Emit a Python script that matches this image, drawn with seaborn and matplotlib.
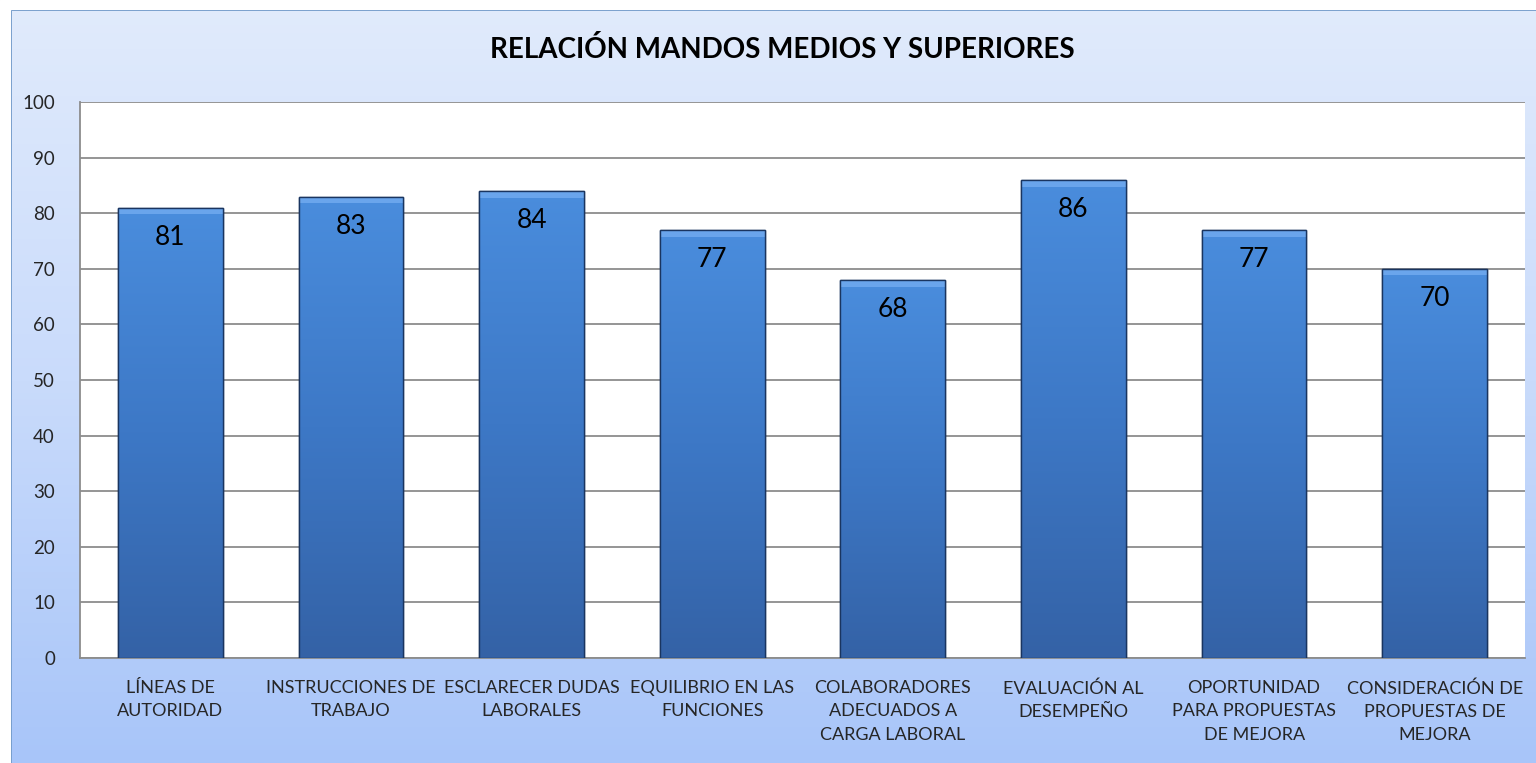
import numpy as np
import pandas as pd
import matplotlib.pyplot as plt
import matplotlib.colors as mcolors
from matplotlib.patches import Rectangle
import seaborn as sns

# Chart data
categorias = [
    "LÍNEAS DE\nAUTORIDAD",
    "INSTRUCCIONES DE\nTRABAJO",
    "ESCLARECER DUDAS\nLABORALES",
    "EQUILIBRIO EN LAS\nFUNCIONES",
    "COLABORADORES\nADECUADOS A\nCARGA LABORAL",
    "EVALUACIÓN AL\nDESEMPEÑO",
    "OPORTUNIDAD\nPARA PROPUESTAS\nDE MEJORA",
    "CONSIDERACIÓN DE\nPROPUESTAS DE\nMEJORA",
]
valores = [81, 83, 84, 77, 68, 86, 77, 70]
titulo = "RELACIÓN MANDOS MEDIOS Y SUPERIORES"
y_ticks = list(range(0, 101, 10))

df = pd.DataFrame({"categoria": categorias, "valor": valores})

sns.set_style("white")
plt.rcParams["font.family"] = ["Lato", "DejaVu Sans"]

W, H = 1536, 763
fig = plt.figure(figsize=(W / 100, H / 100), dpi=100)

# Background: vertical gradient with blue frame
bg = fig.add_axes([0, 0, 1, 1], zorder=-10)
grad = np.linspace(0, 1, 256).reshape(-1, 1)
bg_cmap = mcolors.LinearSegmentedColormap.from_list("bg", ["#e1ebfc", "#c9dbfb", "#a8c5f9"])
bg.imshow(grad, aspect="auto", cmap=bg_cmap, extent=[0, 1, 0, 1], origin="upper")
bg.add_patch(Rectangle((10 / W, -0.01), 1.0, 1 - 9 / H + 0.01, fill=False,
                       edgecolor="#4f81bd", linewidth=2, transform=bg.transAxes))
bg.add_patch(Rectangle((0, 0), 10 / W, 1, color="white", transform=bg.transAxes))
bg.add_patch(Rectangle((0, 1 - 9 / H), 1, 9 / H, color="white", transform=bg.transAxes))
bg.set_xlim(0, 1)
bg.set_ylim(0, 1)
bg.axis("off")

left, right, top, bottom = 80, 1525, 102, 658
ax = fig.add_axes([left / W, 1 - bottom / H, (right - left) / W, (bottom - top) / H])
ax.set_facecolor("white")

sns.barplot(data=df, x="categoria", y="valor", color="#4080d0", width=0.58,
            edgecolor="#1a3560", linewidth=1.0, ax=ax, zorder=3)

# Gradient fill inside each bar
bar_cmap = mcolors.LinearSegmentedColormap.from_list("bar", ["#4a8ddd", "#3d78c6", "#3462a6"])
for p in ax.patches:
    x0, w, h = p.get_x(), p.get_width(), p.get_height()
    im = ax.imshow(grad, aspect="auto", cmap=bar_cmap, extent=[x0, x0 + w, 0, h],
                   origin="upper", zorder=3.5)
    im.set_clip_path(p)
    # lighter bevel at top
    ax.add_patch(Rectangle((x0, h - 1.2), w, 1.2, facecolor="#6aa5ec", edgecolor="none", zorder=3.6))
    ax.add_patch(Rectangle((x0, 0), w, h, fill=False, edgecolor="#1a3560", linewidth=1.0, zorder=3.7))

for i, v in enumerate(valores):
    ax.text(i, v - 5.4, str(v), ha="center", va="center", fontsize=19, color="black", zorder=5)

ax.set_xlim(-0.5, len(valores) - 0.5)
ax.set_ylim(0, 100)
ax.set_yticks(y_ticks)
ax.yaxis.grid(True, color="#8c8c8c", linewidth=1.3, zorder=0)
ax.set_axisbelow(True)
for s in ["top", "right"]:
    ax.spines[s].set_visible(False)
for s in ["left", "bottom"]:
    ax.spines[s].set_color("#8c8c8c")
    ax.spines[s].set_linewidth(1.3)
ax.tick_params(axis="y", labelsize=13.5, length=0, pad=18)
ax.tick_params(axis="x", labelsize=13, length=0, pad=16)
for lab in ax.get_xticklabels():
    lab.set_linespacing(1.55)
ax.set_xlabel("")
ax.set_ylabel("")

fig.text(782 / W, 1 - 50 / H, titulo, ha="center", va="center", fontsize=20,
         fontweight="bold", color="black")

fig.savefig("out.png", dpi=100)
